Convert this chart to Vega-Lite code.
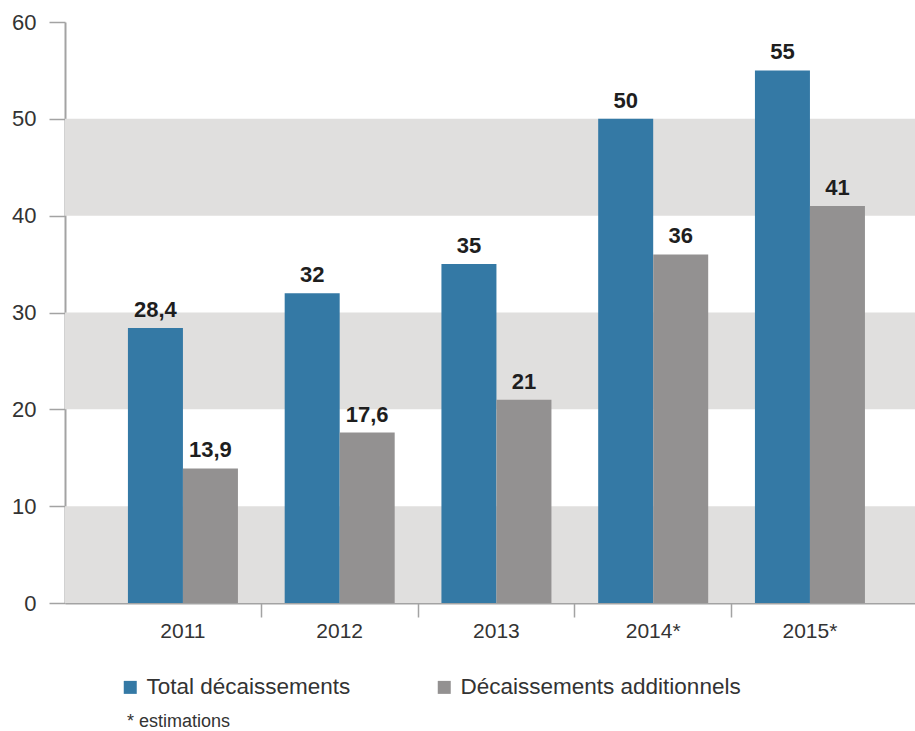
{
  "$schema": "https://vega.github.io/schema/vega-lite/v6.json",
  "autosize": {"type": "none"},
  "padding": {"left": 65, "top": 22, "right": 0, "bottom": 128},
  "width": 850,
  "height": 581,
  "config": {
    "view": {"stroke": null},
    "font": "Liberation Sans",
    "locale": {"number": {"decimal": ",", "thousands": " ", "grouping": [3], "currency": ["", " €"]}}
  },
  "title": {
    "text": "* estimations",
    "orient": "bottom",
    "anchor": "start",
    "frame": "group",
    "dx": 62,
    "offset": 14,
    "fontSize": 18,
    "fontWeight": "normal",
    "color": "#333333",
    "font": "Liberation Sans"
  },
  "layer": [
    {
      "data": {"values": [{"lo": 0, "hi": 10}, {"lo": 20, "hi": 30}, {"lo": 40, "hi": 50}]},
      "mark": {"type": "rect", "color": "#e0dfde"},
      "encoding": {
        "y": {"field": "lo", "type": "quantitative", "scale": {"domain": [0, 60]}},
        "y2": {"field": "hi"}
      }
    },
    {
      "data": {"values": [
        {"annee": "2011", "serie": "Total décaissements", "valeur": 28.4},
        {"annee": "2011", "serie": "Décaissements additionnels", "valeur": 13.9},
        {"annee": "2012", "serie": "Total décaissements", "valeur": 32},
        {"annee": "2012", "serie": "Décaissements additionnels", "valeur": 17.6},
        {"annee": "2013", "serie": "Total décaissements", "valeur": 35},
        {"annee": "2013", "serie": "Décaissements additionnels", "valeur": 21},
        {"annee": "2014*", "serie": "Total décaissements", "valeur": 50},
        {"annee": "2014*", "serie": "Décaissements additionnels", "valeur": 36},
        {"annee": "2015*", "serie": "Total décaissements", "valeur": 55},
        {"annee": "2015*", "serie": "Décaissements additionnels", "valeur": 41}
      ]},
      "encoding": {
        "x": {
          "field": "annee", "type": "nominal", "sort": null,
          "scale": {"paddingInner": 0.2982, "paddingOuter": 0.3604, "align": 0.557},
          "axis": {
            "title": null,
            "labelAngle": 0,
            "bandPosition": 1.2127,
            "domainColor": "#a3a3a3",
            "domainWidth": 2,
            "tickColor": "#a3a3a3",
            "tickWidth": 1.5,
            "tickSize": 14,
            "tickOpacity": {"condition": {"test": "datum.value == '2015*'", "value": 0}, "value": 1},
            "labelFontSize": 21,
            "labelColor": "#333333",
            "labelPadding": 3,
            "labelFont": "Liberation Sans"
          }
        },
        "xOffset": {
          "field": "serie", "type": "nominal",
          "sort": ["Total décaissements", "Décaissements additionnels"],
          "scale": {"paddingInner": 0, "paddingOuter": 0}
        },
        "y": {
          "field": "valeur", "type": "quantitative",
          "scale": {"domain": [0, 60]},
          "axis": {
            "title": null,
            "values": [0, 10, 20, 30, 40, 50, 60],
            "grid": false,
            "domainColor": "#a3a3a3",
            "domainWidth": 2,
            "tickColor": "#a3a3a3",
            "tickWidth": 1.5,
            "tickSize": 16,
            "labelFontSize": 22,
            "labelColor": "#333333",
            "labelPadding": 13,
            "labelFont": "Liberation Sans"
          }
        }
      },
      "layer": [
        {
          "mark": {"type": "bar"},
          "encoding": {
            "color": {
              "field": "serie", "type": "nominal",
              "scale": {"domain": ["Total décaissements", "Décaissements additionnels"], "range": ["#3479a5", "#939191"]},
              "legend": {
                "title": null,
                "orient": "none",
                "direction": "horizontal",
                "legendX": 54,
                "legendY": 654,
                "symbolType": "square",
                "symbolSize": 169,
                "symbolStrokeWidth": 0,
                "symbolOpacity": 1,
                "labelFontSize": 22.5,
                "labelColor": "#333333",
                "labelOffset": 5,
                "columnPadding": 82,
                "labelFont": "Liberation Sans",
                "labelLimit": 400
              }
            }
          }
        },
        {
          "mark": {"type": "text", "baseline": "alphabetic", "dy": -11, "fontSize": 22, "fontWeight": "bold", "color": "#1e1e1e"},
          "encoding": {
            "text": {"field": "valeur", "type": "quantitative", "format": ".3~g"}
          }
        }
      ]
    }
  ]
}
